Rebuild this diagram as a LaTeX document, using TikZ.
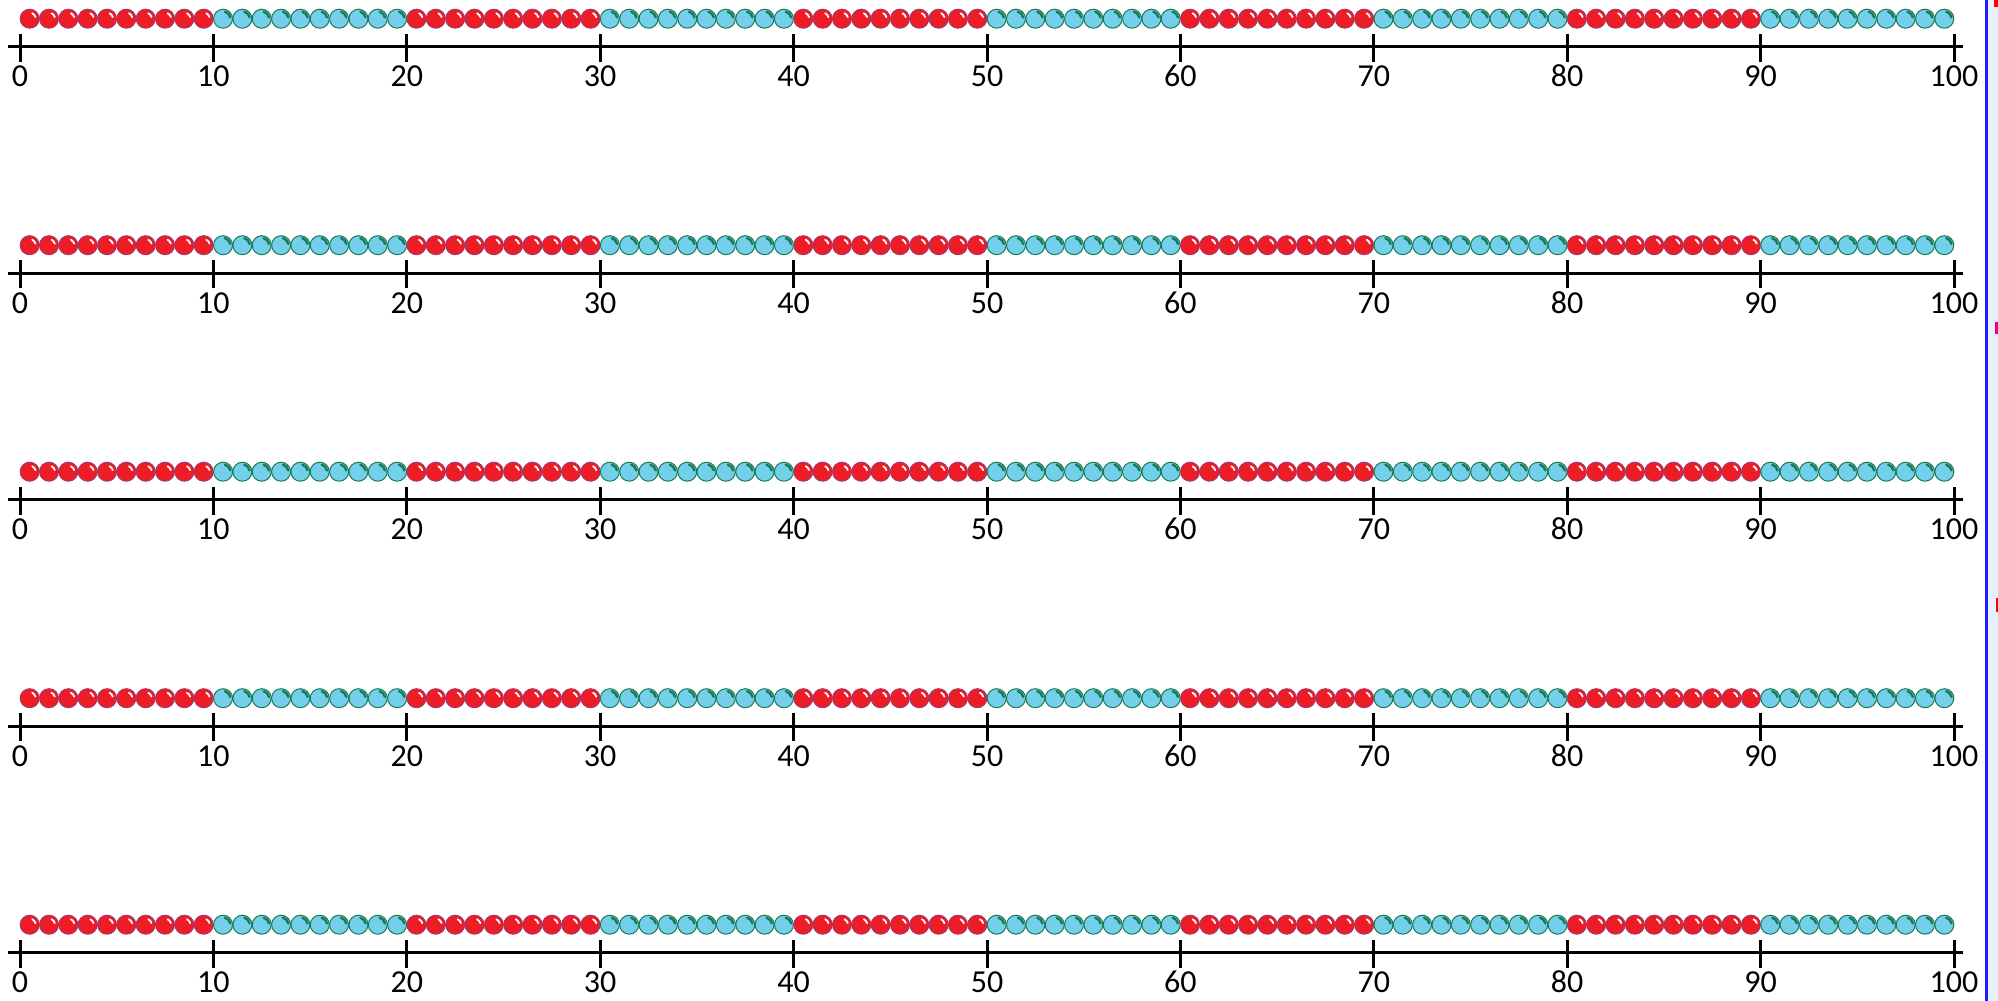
\documentclass[tikz,border=0pt]{standalone}
\usepackage{fontspec}
\setmainfont{Carlito}
\definecolor{beadred}{HTML}{EE1C25}
\definecolor{redline}{HTML}{A3386C}
\definecolor{beadcyan}{HTML}{74CFEA}
\definecolor{cyanline}{HTML}{1A7A55}
\definecolor{panelblue}{HTML}{E6EFFC}
\definecolor{edgeblue}{HTML}{1E1EFF}
\begin{document}
\begin{tikzpicture}[x=1pt,y=-1pt,
  axisline/.style={line width=3pt,black},
  ticklab/.style={font=\fontsize{32}{32}\selectfont,anchor=base,inner sep=0pt},
  bead/.style={circle,minimum size=19pt,inner sep=0pt,line width=1pt},
  redbead/.style={bead,draw=redline,fill=beadred},
  cyanbead/.style={bead,draw=cyanline,fill=beadcyan},
  redshine/.style={white,line width=1.8pt,line cap=round},
  cyanshine/.style={cyanline,line width=2.4pt,line cap=round}]
\useasboundingbox (0,0) rectangle (1998,1001);
\fill[white] (0,0) rectangle (1998,1001);
% right-hand panel edge
\fill[panelblue] (1986,0) rectangle (1998,1001);
\coordinate (edgetop) at (1986,0);
\coordinate (edgebot) at (1986,1001);
\draw[edgeblue,line width=3pt] (edgetop) -- (edgebot);
\fill[red] (1994,0) rectangle (1998,7);
\fill[magenta] (1995,322) rectangle (1998,334);
\fill[red] (1996,598) rectangle (1998,612);
\foreach \r in {0,...,4}{
  \pgfmathsetmacro\ya{46.7+226.5*\r}
  \pgfmathsetmacro\yb{\ya-28}
  \coordinate (axL-\r) at (8,\ya);
  \coordinate (axR-\r) at (1963,\ya);
  \draw[axisline] (axL-\r) -- (axR-\r);
  \foreach \k in {0,...,10}{
    \pgfmathtruncatemacro\lbl{10*\k}
    \coordinate (tk-\r-\k) at (20+193.4*\k,\ya);
    \draw[axisline] ([yshift=-15pt]tk-\r-\k) -- ([yshift=13pt]tk-\r-\k);
    \node[ticklab] (lb-\r-\k) at ([yshift=-40pt]tk-\r-\k) {\lbl};
  }
  \foreach \i in {1,...,100}{
    \pgfmathtruncatemacro\g{mod(int((\i-1)/10),2)}
    \pgfmathsetmacro\xb{20+19.34*(\i-0.5)}
    \ifnum\g=0
      \node[redbead] (bd-\r-\i) at (\xb,\yb) {};
      \draw[redshine] (bd-\r-\i.center) ++(-15:6) arc[start angle=-15,end angle=-65,radius=6];
    \else
      \node[cyanbead] (bd-\r-\i) at (\xb,\yb) {};
      \draw[cyanshine] (bd-\r-\i.center) ++(-10:7.3) arc[start angle=-10,end angle=-75,radius=7.3];
    \fi
  }
}
\end{tikzpicture}
\end{document}
